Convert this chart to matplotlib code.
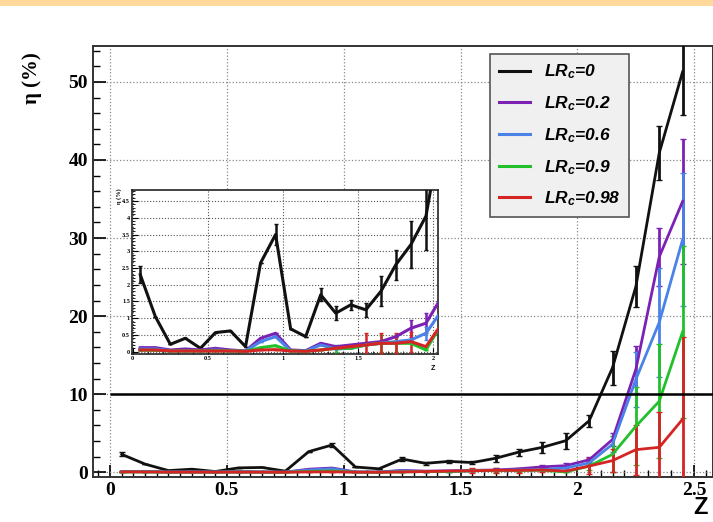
import numpy as np
import matplotlib
matplotlib.use("Agg")
import matplotlib.pyplot as plt
from matplotlib.patches import Rectangle
from matplotlib.lines import Line2D
from matplotlib.ticker import MultipleLocator

plt.rcParams['mathtext.fontset'] = 'custom'
plt.rcParams['mathtext.it'] = 'Liberation Sans:italic:bold'
plt.rcParams['mathtext.rm'] = 'Liberation Sans:italic:bold'

# bin centres in Z
z = np.arange(25) * 0.1 + 0.05

lr0 = [2.3, 1.05, 0.22, 0.4, 0.1, 0.57, 0.62, 0.15, 2.65, 3.5, 0.68, 0.45, 1.7,
       1.15, 1.4, 1.25, 1.8, 2.6, 3.2, 4.05, 6.6, 13.4, 23.8, 40.9, 51.3]
lr0_err = [0.25, 0, 0, 0, 0, 0, 0, 0, 0, 0.3, 0, 0, 0.2, 0.2, 0.15, 0.2, 0.45,
           0.45, 0.7, 1.0, 0.8, 2.2, 2.6, 3.4, 5.5]

lr02 = [0.12, 0.12, 0.05, 0.08, 0.05, 0.1, 0.05, 0.02, 0.4, 0.55, 0.05, 0.03, 0.25,
        0.15, 0.2, 0.25, 0.3, 0.45, 0.7, 0.85, 1.6, 4.2, 13.2, 27.6, 34.7]
lr02_err = [0, 0, 0, 0, 0, 0, 0, 0, 0, 0, 0, 0, 0, 0, 0, 0, 0, 0, 0.25, 0.3,
            0.4, 0.8, 3.0, 3.7, 8.0]

lr06 = [0.08, 0.08, 0.03, 0.03, 0.03, 0.05, 0.03, 0.02, 0.3, 0.45, 0.03, 0.02, 0.2,
        0.08, 0.1, 0.2, 0.25, 0.3, 0.35, 0.55, 1.2, 3.6, 11.9, 19.2, 29.8]
lr06_err = [0, 0, 0, 0, 0, 0, 0, 0, 0, 0, 0, 0, 0, 0, 0, 0, 0, 0, 0, 0.2,
            0.3, 1.0, 3.5, 7.0, 8.5]

lr09 = [0.04, 0.04, 0.02, 0.02, 0.02, 0.03, 0.02, 0.01, 0.12, 0.18, 0.02, 0.01, 0.05,
        0.1, 0.1, 0.2, 0.25, 0.25, 0.25, 0.05, 0.8, 2.3, 5.9, 9.1, 18.0]
lr09_err = [0, 0, 0, 0, 0, 0, 0, 0, 0, 0, 0, 0, 0, 0.1, 0, 0, 0.25, 0.25, 0, 0,
            0.5, 2.3, 5.0, 7.3, 11.0]

lr098 = [0.05, 0.05, 0.02, 0.02, 0.02, 0.02, 0.02, 0.01, 0.05, 0.06, 0.02, 0.01, 0.05,
         0.1, 0.15, 0.2, 0.25, 0.25, 0.3, 0.15, 0.8, 1.5, 2.9, 3.2, 6.8]
lr098_err = [0, 0, 0, 0, 0, 0, 0, 0, 0, 0, 0, 0, 0, 0, 0, 0.35, 0.3, 0.3, 0.3, 0,
             1.0, 1.5, 3.2, 4.5, 10.5]

series = [
    (lr0, lr0_err, '#111111', 'LR$_c$=0'),
    (lr02, lr02_err, '#7b22b4', 'LR$_c$=0.2'),
    (lr06, lr06_err, '#4a82e8', 'LR$_c$=0.6'),
    (lr09, lr09_err, '#22c02a', 'LR$_c$=0.9'),
    (lr098, lr098_err, '#d42424', 'LR$_c$=0.98'),
]

fig = plt.figure(figsize=(7.13, 5.22), dpi=100)
fig.patches.append(Rectangle((0, 1 - 6 / 522), 1, 6 / 522, transform=fig.transFigure,
                             facecolor='#ffd89b', edgecolor='none'))

ax = fig.add_axes([93 / 713, 1 - 477 / 522, 620 / 713, 431 / 522])
handles = []
for vals, err, col, lab in series:
    ax.errorbar(z, vals, yerr=err, color=col, lw=2, elinewidth=2, capsize=2,
                zorder=3)
    handles.append(Line2D([], [], color=col, lw=2.2, label=lab))
ax.hlines(10, 0.0, 2.6, color='black', lw=1.8, zorder=4)

ax.set_xlim(-0.073, 2.58)
ax.set_ylim(-0.6, 54.6)
ax.xaxis.set_major_locator(MultipleLocator(0.5))
ax.xaxis.set_minor_locator(MultipleLocator(0.05))
ax.yaxis.set_major_locator(MultipleLocator(10))
ax.yaxis.set_minor_locator(MultipleLocator(2))
ax.tick_params(which='both', direction='in', top=False, right=False)
ax.tick_params(which='major', length=9, width=1.2)
ax.tick_params(which='minor', length=5, width=1)
ax.grid(True, which='major', ls=':', color='#888888', lw=0.9)
ax.set_xticks([0, 0.5, 1, 1.5, 2, 2.5], ['0', '0.5', '1', '1.5', '2', '2.5'],
              fontfamily='Liberation Serif', fontweight='bold', fontsize=14)
ax.set_yticks([0, 10, 20, 30, 40, 50], ['0', '10', '20', '30', '40', '50'],
              fontfamily='Liberation Serif', fontweight='bold', fontsize=14)
for s in ax.spines.values():
    s.set_linewidth(1.4)
    s.set_color('#333333')

fig.text(32 / 713, 1 - 78 / 522, 'η (%)', rotation=90, ha='center', va='center',
         fontfamily='Liberation Serif', fontweight='bold', fontsize=15)
fig.text(700 / 713, 1 - 508 / 522, 'Z', ha='center', va='center',
         fontfamily='Liberation Sans', fontweight='bold', fontsize=17)

leg = ax.legend(handles=handles, loc='upper left',
                bbox_to_anchor=(490 / 713, 1 - 54 / 522),
                bbox_transform=fig.transFigure, borderaxespad=0, fancybox=False,
                facecolor='#f0f0f0', edgecolor='#555555', framealpha=1,
                handlelength=1.8, labelspacing=0.75, borderpad=0.5,
                prop={'family': 'Liberation Sans', 'weight': 'bold',
                      'style': 'italic', 'size': 12.5})
leg.get_frame().set_linewidth(1.2)
leg.set_zorder(10)

# inset zoom on Z < 2
ins = fig.add_axes([132 / 713, 1 - 354 / 522, 306 / 713, 164 / 522])
for vals, err, col, lab in series:
    ins.errorbar(z, vals, yerr=err, color=col, lw=2.2, elinewidth=1.8, capsize=1.5,
                 zorder=3)
ins.set_xlim(-0.005, 2.03)
ins.set_ylim(-0.07, 4.83)
ins.xaxis.set_minor_locator(MultipleLocator(0.1))
ins.yaxis.set_minor_locator(MultipleLocator(0.1))
ins.tick_params(which='both', direction='in', labelsize=4.5, pad=1.5)
ins.tick_params(which='major', length=4)
ins.tick_params(which='minor', length=2)
ins.set_xticks([0, 0.5, 1, 1.5, 2], ['0', '0.5', '1', '1.5', '2'],
               fontfamily='Liberation Serif', fontweight='bold')
ins.set_yticks(np.arange(0, 4.6, 0.5),
               ['0', '0.5', '1', '1.5', '2', '2.5', '3', '3.5', '4', '4.5'],
               fontfamily='Liberation Serif', fontweight='bold')
ins.grid(True, which='major', ls=':', color='#555555', lw=0.8)
for s in ins.spines.values():
    s.set_linewidth(1.2)
    s.set_color('#222222')
fig.text(119 / 713, 1 - 196 / 522, 'η (%)', rotation=90, ha='center', va='center',
         fontfamily='Liberation Serif', fontweight='bold', fontsize=4.5)
fig.text(433 / 713, 1 - 369 / 522, 'Z', ha='center', va='center',
         fontfamily='Liberation Sans', fontweight='bold', fontsize=5)

fig.savefig('out.png', dpi=100)
